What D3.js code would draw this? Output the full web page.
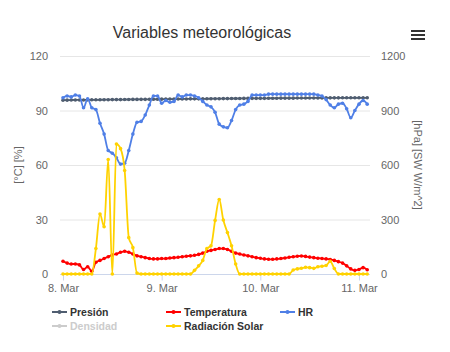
<!DOCTYPE html>
<html>
<head>
<meta charset="utf-8">
<script src="https://cdn.jsdelivr.net/npm/d3@7"></script>
<style>
  body { margin: 0; background: #fff; }
  text { font-family: "Liberation Sans", Arial, sans-serif; }
</style>
</head>
<body>
<svg id="chart" width="450" height="352"></svg>
<script>
// hourly readings, starting 8 Mar 00:00
const startTime = Date.UTC(2016, 2, 8, 0, 0);

const presion = [957, 957, 957.5, 958, 958, 958, 958.5, 959, 959, 959,
  959.5, 959.5, 960, 960, 960, 960.5, 960.5, 961, 961, 961.5,
  961.5, 962, 962, 962, 962.5, 962.5, 963, 963, 963, 963.5,
  963.5, 964, 964, 964, 964.5, 964.5, 965, 965, 965, 965.5,
  965.5, 966, 966, 966, 966.5, 966.5, 967, 967, 967, 967,
  967.5, 967.5, 967.5, 968, 968, 968, 968, 968.5, 968.5, 968.5,
  969, 969, 969, 969, 969.5, 969.5, 969.5, 969.5, 970, 970,
  970, 970, 970, 970, 970];

const temperatura = [7, 6, 5.5, 5.5, 5, 2.5, 4, 1.5, 6.5, 7.5,
  8.5, 9.5, 10.5, 11, 12, 12.5, 12, 11, 10, 9.5,
  9, 8.5, 8.3, 8.3, 8.5, 8.5, 8.8, 9, 9.2, 9.5,
  9.8, 10, 10.3, 10.8, 11.5, 12.5, 13, 13.5, 14, 14,
  13.5, 12.5, 11.5, 11, 10.5, 10, 9.5, 9, 8.7, 8.3,
  8.1, 8.1, 8.3, 8.5, 8.8, 9.2, 9.5, 9.8, 9.9, 9.7,
  9.3, 9, 8.7, 8.5, 8.3, 8, 7.5, 6.8, 6, 4.5,
  2.8, 2, 2.5, 3.5, 2.3];

const hr = [97, 98, 97.5, 98.5, 98, 91.5, 96.5, 91.5, 90.5, 83,
  77, 68, 66.5, 64, 60.5, 61, 68, 77, 83.5, 84,
  87.5, 93, 98, 98, 94, 95.5, 94.5, 95, 98.5, 97.5,
  98.5, 98.5, 98, 97, 95, 93, 92, 89, 82.5, 81,
  80.5, 84.5, 90.5, 93, 93.5, 95, 98.5, 98.5, 98.5, 98.5,
  99, 99, 99, 99, 99, 99, 99, 99, 99, 99,
  99, 99, 98.5, 98, 96, 93, 91.5, 93.5, 94, 91,
  86, 90, 93.5, 95.5, 93.5];

const radiacion = [0, 0, 0, 0, 0, 0, 0, 0,
  140, 330, 260, 630, 0, 715, 690, 570, 200, 145, 5,
  0, 0, 0, 0, 0, 0, 0, 0, 0, 0, 0, 0, 0,
  20, 45, 75, 140, 155, 295, 410, 297, 228, 155, 55,
  0, 0, 0, 0, 0, 0, 0, 0, 0, 0, 0, 0, 0,
  22, 28, 32, 37, 35, 31, 40, 43, 47, 70, 30,
  0, 0, 0, 0, 0, 0, 0, 0];

const leftTicks = [0, 30, 60, 90, 120];
const rightTicks = [0, 300, 600, 900, 1200];

const series = [
  { name: "Presión", values: presion, axis: "right", color: "#4f5d70" },
  { name: "Temperatura", values: temperatura, axis: "left", color: "#ff0000" },
  { name: "HR", values: hr, axis: "left", color: "#4f7fe6" },
  { name: "Radiación Solar", values: radiacion, axis: "right", color: "#ffd200" }
];

const legendItems = [
  { name: "Presión", color: "#4f5d70", col: 0, row: 0 },
  { name: "Temperatura", color: "#ff0000", col: 1, row: 0 },
  { name: "HR", color: "#4f7fe6", col: 2, row: 0 },
  { name: "Densidad", color: "#cccccc", col: 0, row: 1 },
  { name: "Radiación Solar", color: "#ffd200", col: 1, row: 1 }
];

const plot = { left: 60, right: 370, top: 56, bottom: 274 };
const hour = 3600 * 1000;

let x = d3.scaleUtc()
  .domain([startTime - 0.73 * hour, startTime + 74.68 * hour])
  .range([plot.left, plot.right]);
let yLeft = d3.scaleLinear().domain([0, 120]).range([plot.bottom, plot.top]);
let yRight = d3.scaleLinear().domain([0, 1200]).range([plot.bottom, plot.top]);

let svg = d3.select("#chart");

// title + menu
svg.append("text")
  .attr("x", 202).attr("y", 38)
  .attr("text-anchor", "middle")
  .style("font-size", "16px")
  .style("fill", "#333")
  .text("Variables meteorológicas");

svg.append("g").selectAll("line")
  .data([31, 35, 39]).enter().append("line")
  .attr("x1", 411).attr("x2", 425)
  .attr("y1", d => d).attr("y2", d => d)
  .attr("stroke", "#333").attr("stroke-width", 2);

// grid
svg.append("g").selectAll("line")
  .data(leftTicks).enter().append("line")
  .attr("x1", plot.left).attr("x2", plot.right)
  .attr("y1", d => yLeft(d) + 0.5).attr("y2", d => yLeft(d) + 0.5)
  .attr("stroke", d => d == 0 ? "#ccd6eb" : "#e6e6e6");

// left labels
svg.append("g").selectAll("text")
  .data(leftTicks).enter().append("text")
  .attr("x", 48).attr("y", d => yLeft(d) + 4)
  .attr("text-anchor", "end")
  .style("font-size", "11px").style("fill", "#666")
  .text(d => d);

// right labels
svg.append("g").selectAll("text")
  .data(rightTicks).enter().append("text")
  .attr("x", 381).attr("y", d => yRight(d) + 4)
  .style("font-size", "11px").style("fill", "#666")
  .text(d => d);

svg.append("text")
  .attr("transform", "translate(22,165) rotate(-90)")
  .attr("text-anchor", "middle")
  .style("font-size", "11px").style("fill", "#666")
  .text("[°C] [%]");

svg.append("text")
  .attr("transform", "translate(414,165) rotate(90)")
  .attr("text-anchor", "middle")
  .style("font-size", "11px").style("fill", "#666")
  .text("[hPa] [SW W/m^2]");

// x axis
let xAxis = d3.axisBottom(x)
  .ticks(d3.utcDay.every(1))
  .tickSize(6)
  .tickFormat(d3.utcFormat("%-d. %b"));

let gx = svg.append("g")
  .attr("transform", "translate(0," + (plot.bottom + 0.5) + ")")
  .call(xAxis);
gx.select(".domain").remove();
gx.selectAll(".tick line").attr("stroke", "#ccd6eb");
gx.selectAll(".tick text")
  .attr("y", 10)
  .style("font-size", "11px").style("fill", "#666")
  .style("font-family", "Liberation Sans, Arial, sans-serif");

// lines
series.forEach(function(s) {
  let y = s.axis == "left" ? yLeft : yRight;
  let pts = s.values.map((v, i) => [x(startTime + i * hour), y(v)]);

  let line = d3.line().curve(d3.curveMonotoneX);
  svg.append("path")
    .attr("d", line(pts))
    .attr("fill", "none")
    .attr("stroke", s.color)
    .attr("stroke-width", 1.8);

  svg.append("g").selectAll("circle")
    .data(pts).enter().append("circle")
    .attr("cx", d => d[0]).attr("cy", d => d[1])
    .attr("r", 1.8)
    .attr("fill", s.color);
});

// legend
let colX = [52, 166, 280];
let rowY = [312, 326];
let legend = svg.append("g").selectAll("g")
  .data(legendItems).enter().append("g")
  .attr("transform", d => "translate(" + colX[d.col] + "," + rowY[d.row] + ")");

legend.append("line")
  .attr("x1", 0).attr("x2", 15)
  .attr("stroke", d => d.color).attr("stroke-width", 2);
legend.append("circle")
  .attr("cx", 7.5).attr("r", 2)
  .attr("fill", d => d.color);
legend.append("text")
  .attr("x", 18).attr("y", 4)
  .style("font-size", "10.5px").style("font-weight", "bold")
  .style("fill", d => d.name == "Densidad" ? "#cccccc" : "#333")
  .text(d => d.name);
</script>
</body>
</html>
